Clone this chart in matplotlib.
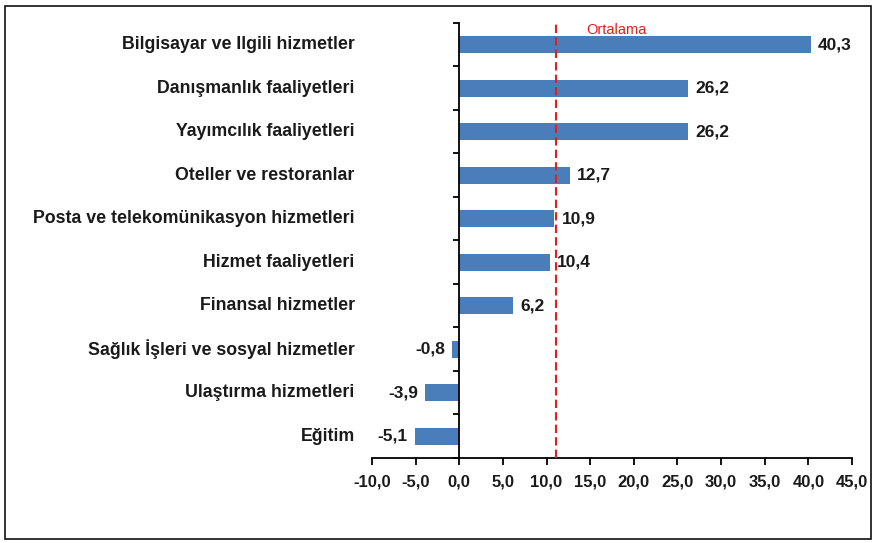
import matplotlib
matplotlib.use("Agg")
import matplotlib.pyplot as plt
from matplotlib.patches import Rectangle
import numpy as np

categories = ["Bilgisayar ve Ilgili hizmetler", "Danışmanlık faaliyetleri", "Yayımcılık faaliyetleri",
              "Oteller ve restoranlar", "Posta ve telekomünikasyon hizmetleri", "Hizmet faaliyetleri",
              "Finansal hizmetler", "Sağlık İşleri ve sosyal hizmetler", "Ulaştırma hizmetleri", "Eğitim"]
values = [40.3, 26.2, 26.2, 12.7, 10.9, 10.4, 6.2, -0.8, -3.9, -5.1]
mean_value = 11.1
mean_label = "Ortalama"
xticks = [-10, -5, 0, 5, 10, 15, 20, 25, 30, 35, 40, 45]

plt.rcParams['font.family'] = ['Liberation Sans', 'DejaVu Sans']
fig = plt.figure(figsize=(8.72, 5.43), dpi=100)
fig.patches.append(Rectangle((5/872, 4/543), 866/872, 533/543, transform=fig.transFigure,
                             fill=False, edgecolor='#222222', linewidth=1.3))
ax = fig.add_axes([372/872, 1-458/543, 480/872, 435/543])

n = len(categories)
y = np.arange(n)
color = '#4a7ebb'
ax.barh(y, values, height=0.4, color=color, zorder=2)
ax.set_xlim(-10, 45)
ax.set_ylim(n - 0.5, -0.5)

ax.spines['top'].set_visible(False)
ax.spines['right'].set_visible(False)
ax.spines['left'].set_position(('data', 0))
ax.spines['left'].set_linewidth(1.3)
ax.spines['bottom'].set_linewidth(1.3)

bounds = np.arange(n + 1) - 0.5
ax.set_yticks(bounds)
ax.set_yticklabels([])
ax.tick_params(axis='y', direction='out', length=4, width=1.3)

ax.set_xticks(xticks)
ax.set_xticklabels([f"{v:.1f}".replace('.', ',') for v in xticks], fontweight='bold', fontsize=12,
                   color='#1a1a1a')
ax.tick_params(axis='x', direction='out', length=5, width=1.3, pad=7)

for yi, cat in zip(y, categories):
    ax.text(-0.036, yi, cat, transform=ax.get_yaxis_transform(), ha='right', va='center',
            fontweight='bold', fontsize=12.8, color='#1a1a1a')

for yi, v in zip(y, values):
    lbl = f"{v:.1f}".replace('.', ',')
    if v >= 0:
        ax.text(v + 0.8, yi, lbl, ha='left', va='center', fontweight='bold', fontsize=12.5, color='#1a1a1a')
    else:
        ax.text(v - 0.8, yi, lbl, ha='right', va='center', fontweight='bold', fontsize=12.5, color='#1a1a1a')

ax.axvline(mean_value, color='#e0201b', linestyle=(0, (4, 2)), linewidth=1.5, zorder=3)
ax.text(mean_value + 3.4, -0.35, mean_label, color='#e0201b', fontsize=10.5, ha='left', va='center')

fig.savefig("out.png", dpi=100)
